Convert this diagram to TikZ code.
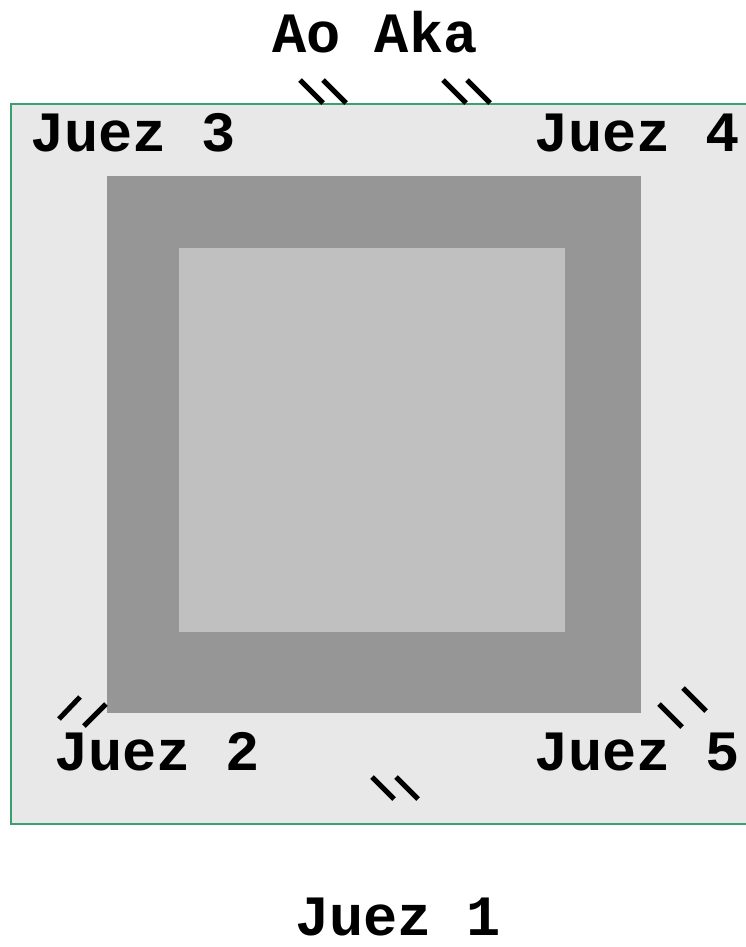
\documentclass[tikz,border=0pt]{standalone}
\usepackage{fontspec}
\newfontfamily\judgefont{Liberation Mono}
\usepackage{xcolor}
\definecolor{MatGreen}{RGB}{60,160,110}
\definecolor{AreaGray}{RGB}{232,232,232}
\definecolor{SafeGray}{RGB}{150,150,150}
\definecolor{FieldGray}{RGB}{192,192,192}

\begin{document}
\begin{tikzpicture}[
x=1pt,y=-1pt,
label/.style={
anchor=base west,inner sep=0pt,font=\judgefont\bfseries\fontsize{57}{60}\selectfont
},
seat/.style={line width=5pt,black}
]

\clip (0,0) rectangle (746,947);

% zones
\draw[MatGreen,line width=2pt,fill=AreaGray] (11,104) rectangle (770,824);
\fill[SafeGray] (107,176) rectangle (641,713);
\fill[FieldGray] (179,248) rectangle (565,632);

% names
\node[label] (aoaka) at (272,53) {Ao Aka};
\node[label] (j3) at (30,151) {Juez 3};
\node[label] (j4) at (534,151) {Juez 4};
\node[label] (j2) at (54,770) {Juez 2};
\node[label] (j5) at (534,770) {Juez 5};
\node[label] (j1) at (295,935) {Juez 1};

% seats
\draw[seat] (300,80)--(323,103);
\draw[seat] (323,80)--(346,103);
\draw[seat] (443,80)--(466,103);
\draw[seat] (467,80)--(490,103);
\draw[seat] (80,697)--(59,719);
\draw[seat] (106,704)--(84,726);
\draw[seat] (659,704)--(682,727);
\draw[seat] (683,688)--(706,711);
\draw[seat] (372,777)--(394,799);
\draw[seat] (396,777)--(418,799);

\end{tikzpicture}
\end{document}
